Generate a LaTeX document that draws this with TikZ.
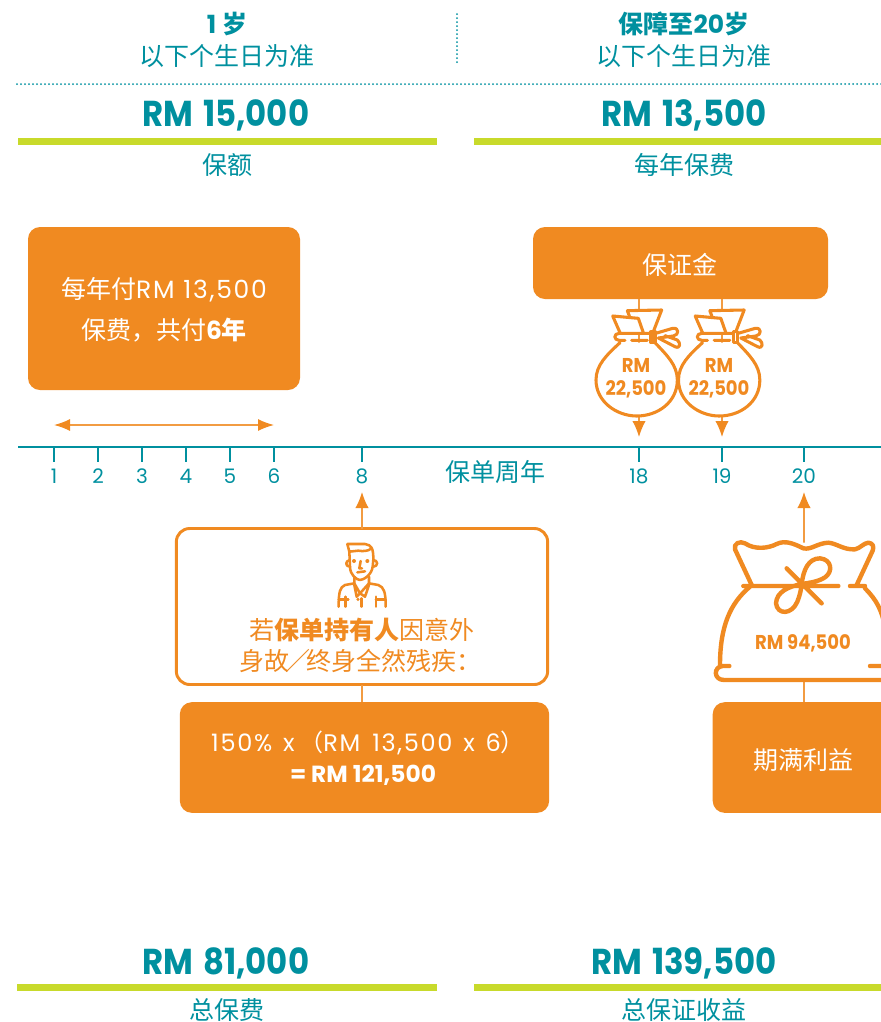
\documentclass[tikz,border=0pt]{standalone}
\usepackage{fontspec}
\usetikzlibrary{arrows.meta}
\setmainfont{Poppins}
\newfontfamily\cjk{Noto Sans CJK SC}
\newfontfamily\amt[FakeStretch=0.9]{Poppins}
\newfontfamily\wid[LetterSpace=7]{Poppins}
\definecolor{org}{HTML}{F08A21}
\definecolor{teal2}{HTML}{00909F}
\definecolor{lime2}{HTML}{C8DA2B}
\newcommand{\fs}[1]{\fontsize{#1}{#1}\selectfont}
\newcommand{\cj}[1]{{\cjk #1}}
\tikzset{
 every node/.style={inner sep=0pt,outer sep=0pt,align=center},
 orgbox/.style={fill=org,rounded corners=9pt,text=white},
 captxt/.style={text=teal2,font=\fs{18.75}\cjk},
 amount/.style={text=teal2,font=\fs{27}\amt\bfseries},
 limebar/.style={fill=lime2},
 ticklab/.style={text=teal2,font=\fs{15}},
 thinorg/.style={draw=org!85,line width=1pt},
 tipped/.style={thinorg,-{Latex[length=12pt,width=10pt,color=org]}},
 bagline/.style={draw=org,line width=3.3pt,line cap=round,line join=round},
 smallline/.style={draw=org,line width=2.3pt,line cap=round,line join=round},
 bagtext/.style={text=org,font=\fs{15}\amt\bfseries},
}
\newcommand{\smallbag}[2]{%
\begin{scope}[shift={(#1,#2)},x=0.25pt,y=-0.25pt]
 \fill[white] (90,158) .. controls (50,195) and (18,225) .. (18,270) .. controls (18,335) and (80,378) .. (140,378) .. controls (205,378) and (262,335) .. (262,270) .. controls (262,225) and (230,195) .. (195,158) -- cycle;
 \path[smallline] (90,158) .. controls (50,195) and (18,225) .. (18,270) .. controls (18,335) and (80,378) .. (140,378) .. controls (205,378) and (262,335) .. (262,270) .. controls (262,225) and (230,195) .. (195,158);
 \fill[white] (68,78) -- (112,62) -- (215,60) -- (190,130) -- (90,130) -- cycle;
 \path[smallline] (88,130) .. controls (70,130) and (70,151) .. (88,151) -- (105,151) (125,151) -- (172,151) (88,130) -- (183,130);
 \path[smallline] (183,125) rectangle (195,158);
 \path[smallline] (68,78) -- (145,85) -- (160,128) (68,78) -- (90,128);
 \path[smallline] (112,62) -- (215,60) -- (190,125) (112,62) -- (118,78);
 \path[smallline] (197,130) -- (248,115) .. controls (268,112) and (268,135) .. (250,138) -- (205,144) -- (255,170) .. controls (272,178) and (272,158) .. (262,150) -- (225,137);
\end{scope}}
\newcommand{\bigbag}[2]{%
\begin{scope}[shift={(#1,#2)},x=0.25pt,y=-0.25pt]
 \fill[white] (105,85) -- (150,198) .. controls (90,250) and (60,320) .. (60,440) -- (60,480) -- (560,480) -- (560,270) -- (495,205) -- (470,195) -- (520,85) -- (510,68) -- (120,68) -- cycle;
 \path[bagline] (150,200) .. controls (90,250) and (60,320) .. (60,436)
   (88,438) -- (68,438) .. controls (40,440) and (40,480) .. (72,480) -- (570,480)
   (495,205) .. controls (530,240) and (545,270) .. (555,320)
   (510,438) -- (570,438)
   (155,195) -- (105,88) .. controls (100,70) and (120,62) .. (135,70) .. controls (165,90) and (205,85) .. (230,72) .. controls (255,60) and (280,70) .. (310,85) .. controls (335,90) and (350,70) .. (385,68) .. controls (410,70) and (430,90) .. (465,88) .. controls (480,85) and (490,70) .. (505,68) .. controls (520,70) and (522,80) .. (518,92) -- (470,195)
   (130,198) -- (415,198) (450,198) -- (495,198)
   (260,145) -- (365,250)
   (305,192) .. controls (310,150) and (325,115) .. (360,115) .. controls (395,118) and (400,155) .. (375,172) .. controls (355,185) and (330,188) .. (305,192)
   .. controls (265,200) and (230,215) .. (228,250) .. controls (232,285) and (275,285) .. (292,245) .. controls (300,225) and (303,210) .. (305,192);
\end{scope}}
\newcommand{\person}[2]{%
\begin{scope}[shift={(#1,#2)},x=0.25pt,y=-0.25pt,line width=1.9pt,draw=org,line cap=round,line join=round]
 \draw (142,42) -- (195,42) .. controls (215,45) and (220,55) .. (220,88) -- (218,110) .. controls (215,135) and (190,150) .. (180,150) .. controls (170,150) and (150,135) .. (150,110) -- (148,65) -- (175,62) .. controls (190,65) and (205,62) .. (210,58) (142,42) -- (148,65);
 \draw (150,90) .. controls (135,92) and (135,110) .. (150,110) (220,90) .. controls (235,90) and (235,110) .. (220,110);
 \fill[org] (162,93) circle (6) (202,93) circle (6);
 \draw (182,93) -- (178,115) -- (186,115) (172,127) -- (195,124);
 \draw (163,140) -- (163,160) -- (135,165) .. controls (120,172) and (116,185) .. (116,230) (207,140) -- (207,160) -- (235,165) .. controls (252,172) and (257,185) .. (257,230);
 \draw (163,160) -- (180,190) -- (207,160) (163,165) -- (170,200) -- (180,190) -- (195,200) -- (207,165);
 \draw (116,208) -- (145,208) (137,200) -- (137,230) (228,200) -- (228,230) (228,208) -- (257,208) (185,205) -- (185,230);
 \fill[org] (174,208) circle (5);
\end{scope}}
\begin{document}
\begin{tikzpicture}[x=0.75pt,y=-0.75pt]
\useasboundingbox (0,0) rectangle (881,1022);
% header
\node[captxt] (hA) at (227,24) {\bfseries{\fontspec{Poppins}1} 岁};
\node[captxt] (hB) at (227,56) {以下个生日为准};
\node[captxt] (hC) at (684,24) {\bfseries 保障至{\fontspec{Poppins}20}岁};
\node[captxt] (hD) at (684,56) {以下个生日为准};
\draw[teal2,line width=1.5pt,line cap=round,dash pattern=on 0pt off 3pt] (457,14) -- (457,64);
\draw[teal2,line width=1.5pt,line cap=round,dash pattern=on 0pt off 3pt] (17,84) -- (881,84);
\node[amount] (a1) at (226,115) {RM\hspace{0.08em} 15,000};
\node[amount] (a2) at (684,115) {RM\hspace{0.08em} 13,500};
\fill[limebar] (18,138) rectangle (437,145);
\fill[limebar] (474,138) rectangle (881,145);
\node[captxt] (c1) at (227,165) {保额};
\node[captxt] (c2) at (684,165) {每年保费};
% bottom
\node[amount] (a3) at (226,963) {RM\hspace{0.08em} 81,000};
\node[amount] (a4) at (684,963) {RM\hspace{0.08em} 139,500};
\fill[limebar] (17,984) rectangle (437,991);
\fill[limebar] (474,984) rectangle (881,991);
\node[captxt] (c3) at (227,1010) {总保费};
\node[captxt] (c4) at (684,1010) {总保证收益};
% axis
\draw[teal2,line width=1.1pt] (18,447) -- (881,447);
\foreach \n/\x in {1/54,2/98,3/142,4/186,5/230,6/274,8/362,18/639,19/722,20/804}{
 \draw[teal2,line width=0.8pt] (\x,447) -- (\x,462);
 \node[ticklab] (t\n) at (\x,476) {\n};
}
\coordinate (p18) at (639,437);
\coordinate (p19) at (722,437);
\coordinate (p8) at (362,492);
\coordinate (p20) at (804,492);
\node[captxt] (axis) at (495.5,472) {保单周年};
% boxes
\node[orgbox,minimum width=204pt,minimum height=122.25pt] (b1) at (164,308.5) {};
\node[text=white,font=\fs{18.75}] (b1a) at (164,290) {\cj{每年付}{\wid RM\hspace{0.35em}13,500}};
\node[text=white,font=\fs{18.75}] (b1b) at (164,330) {\cj{保费，共付}{\bfseries 6}{\cjk\bfseries 年}};
\coordinate (s1) at (54,425); \coordinate (s6) at (274,425);
\draw[thinorg,{Latex[length=12pt,width=9pt,color=org]}-{Latex[length=12pt,width=9pt,color=org]}] (s1) -- (s6);
\node[orgbox,minimum width=221.25pt,minimum height=54pt] (b2) at (680.5,263) {};
\node[text=white,font=\fs{18.75}\cjk] (b2t) at (679.5,265) {保证金};
\draw[tipped] (b2.south -| p18) -- (p18);
\draw[tipped] (b2.south -| p19) -- (p19);
\smallbag{590}{290}
\smallbag{672.5}{290}
\node[bagtext] (m1) at (636,378) {RM\\[2pt]22,500};
\node[bagtext] (m2) at (719,378) {RM\\[2pt]22,500};
% death
\node[draw=org,line width=2.2pt,fill=white,rounded corners=10pt,minimum width=278.5pt,minimum height=117pt] (b3) at (362,606.5) {};
\node[orgbox,minimum width=277pt,minimum height=83pt] (b4) at (364.5,757.5) {};
\draw[tipped] (b3.north -| p8) -- (p8);
\draw[thinorg] (b3.south -| p8) -- (b4.north -| p8);
\person{300}{530}
\node[text=org,font=\fs{18.75}\cjk] (d1) at (362,630) {若{\bfseries 保单持有人}因意外};
\node[text=org,font=\fs{18.75}\cjk] (d2) at (360,661) {身故\hspace{-3pt}／\hspace{-3pt}终身全然残疾：};
\node[text=white,font=\fs{18}] (e1) at (368,743) {{\wid 150\%\hspace{0.45em}x\hspace{0.2em}}\cj{（}{\wid RM\hspace{0.5em}13,500\hspace{0.45em}x\hspace{0.45em}6}\cj{）}};
\node[text=white,font=\fs{17.5}\bfseries] (e2) at (363,775) {= RM 121,500};
% maturity
\node[orgbox,minimum width=140pt,minimum height=83pt] (b5) at (806,757.5) {};
\node[text=white,font=\fs{18.75}\cjk] (e3) at (803,760) {期满利益};
\draw[tipped] (b5.north -| p20) -- (p20);
\bigbag{700}{520}
\node[bagtext] (m3) at (803,643) {RM 94,500};
\end{tikzpicture}
\end{document}
